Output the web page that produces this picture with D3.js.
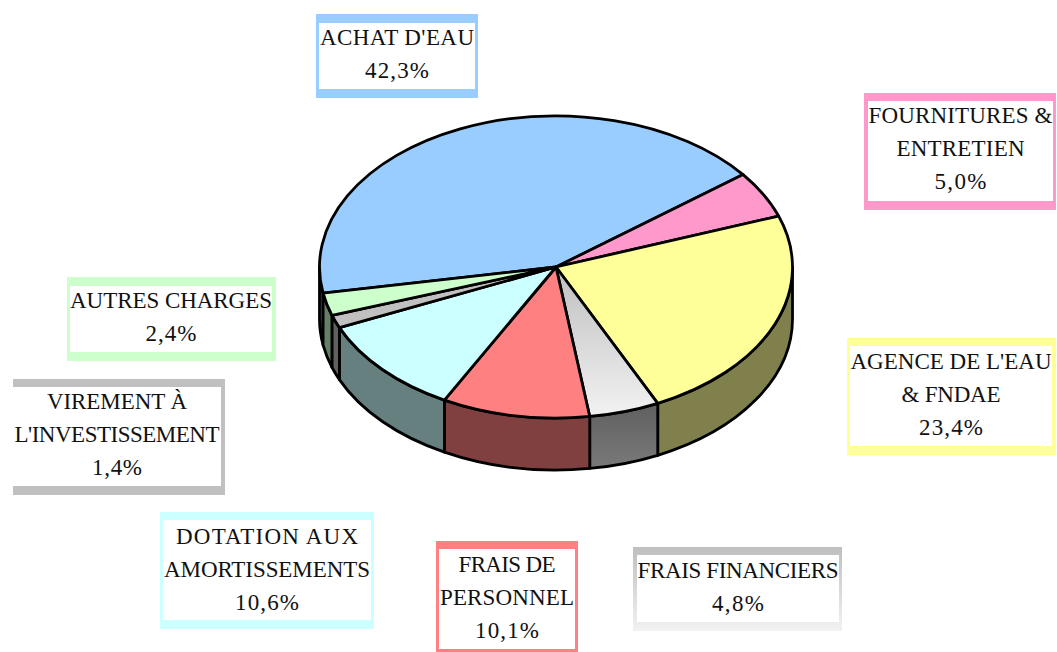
<!DOCTYPE html>
<html>
<head>
<meta charset="utf-8">
<script src="https://cdn.jsdelivr.net/npm/d3@7"></script>
<style>
  html, body { margin: 0; padding: 0; background: #fff; overflow: hidden; }
  svg { display: block; }
</style>
</head>
<body>
<div id="chart"></div>
<script>
// Chart data, clockwise from the left edge of the pie
var categories = ["ACHAT D'EAU", "FOURNITURES & ENTRETIEN", "AGENCE DE L'EAU & FNDAE", "FRAIS FINANCIERS",
    "FRAIS DE PERSONNEL", "DOTATION AUX AMORTISSEMENTS", "VIREMENT À L'INVESTISSEMENT", "AUTRES CHARGES"];
var values = [42.3, 5.0, 23.4, 4.8, 10.1, 10.6, 1.4, 2.4];
var labelLines = [["ACHAT D'EAU"], ["FOURNITURES &", "ENTRETIEN"], ["AGENCE DE L'EAU", "& FNDAE"], ["FRAIS FINANCIERS"],
    ["FRAIS DE", "PERSONNEL"], ["DOTATION AUX", "AMORTISSEMENTS"], ["VIREMENT À", "L'INVESTISSEMENT"], ["AUTRES CHARGES"]];

// Styling
var topColors = ["#99ccff", "#ff99cc", "#ffff99", "url(#fadeTop)", "#ff8080", "#ccffff", "#c0c0c0", "#ccffcc"];
var sideColors = ["#4d6680", "#804d66", "#80804d", "url(#fadeSide)", "#804040", "#668080", "#606060", "#668066"];
var frameColors = ["#99ccff", "#ff99cc", "#ffff99", "url(#fadeFrame)", "#ff8080", "#ccffff", "#c0c0c0", "#ccffcc"];

// Label boxes: outer and inner edges [x0, y0, x1, y1], baseline of first row, pixel width of each row
var frames = [
    { outer: [316, 14, 478, 98], inner: [319, 23, 475, 89], firstBase: 45, rowW: [154, 64] },
    { outer: [864, 93, 1056, 210], inner: [868, 101, 1053, 201], firstBase: 123, rowW: [184, 128, 52] },
    { outer: [847, 338, 1056, 455], inner: [850, 346, 1052, 446], firstBase: 369, rowW: [201, 99, 64] },
    { outer: [633, 547, 842, 631], inner: [637, 555, 839, 622], firstBase: 578, rowW: [201, 52] },
    { outer: [436, 541, 578, 652], inner: [439, 549, 575, 649], firstBase: 572, rowW: [97, 134, 64] },
    { outer: [160, 512, 374, 629], inner: [163, 520, 371, 620], firstBase: 544, rowW: [182, 206, 64] },
    { outer: [13, 379, 225, 495], inner: [13, 387, 221, 486], firstBase: 409, rowW: [140, 205, 50] },
    { outer: [67, 277, 276, 361], inner: [70, 286, 272, 352], firstBase: 308, rowW: [202, 51] }
];

var width = 1057, height = 652;
var cx = 556, cy = 267, rx = 236.5, ry = 151, depth = 52;
var strokeW = 2.8;

var svg = d3.select('#chart').append('svg')
    .attr('width', width)
    .attr('height', height);

// Gradients for the grey slice
var defs = svg.append('defs');
function addFade(id, from, to) {
    var g = defs.append('linearGradient').attr('id', id)
        .attr('x1', 0).attr('y1', 0).attr('x2', 0).attr('y2', 1);
    g.append('stop').attr('offset', '0%').attr('stop-color', from);
    g.append('stop').attr('offset', '100%').attr('stop-color', to);
}
addFade('fadeTop', '#bfbfbf', '#f2f2f2');
addFade('fadeSide', '#606060', '#797979');
addFade('fadeFrame', '#bfbfbf', '#f2f2f2');

// Slices start at the left edge, a little under 9 o'clock
var start = -100 * Math.PI / 180;
var pie = d3.pie().sort(null).startAngle(start).endAngle(start + 2 * Math.PI);
var slices = pie(values);

function px(a, r) { return cx + r * Math.sin(a); }
function py(a, r) { return cy - r * Math.cos(a); }

// Wall of a slice: only the part of its rim that faces the viewer
function wallPath(d) {
    var parts = [[Math.PI / 2, 3 * Math.PI / 2], [-3 * Math.PI / 2, -Math.PI / 2]];
    var out = '';
    parts.forEach(function (p) {
        var a0 = Math.max(d.startAngle, p[0]), a1 = Math.min(d.endAngle, p[1]);
        if (a1 <= a0) return;
        out += 'M' + px(a0, rx) + ',' + py(a0, ry) +
            'A' + rx + ',' + ry + ' 0 0 1 ' + px(a1, rx) + ',' + py(a1, ry) +
            'L' + px(a1, rx) + ',' + (py(a1, ry) + depth) +
            'A' + rx + ',' + ry + ' 0 0 0 ' + px(a0, rx) + ',' + (py(a0, ry) + depth) + 'Z';
    });
    return out;
}

svg.append('g').selectAll('path')
    .data(slices)
    .enter().append('path')
    .attr('d', wallPath)
    .attr('fill', function (d, i) { return sideColors[i]; })
    .attr('stroke', '#000')
    .attr('stroke-width', strokeW)
    .attr('stroke-linejoin', 'round');

// Top face: a normal d3 arc squashed into an ellipse
var arc = d3.arc().innerRadius(0).outerRadius(rx);
svg.append('g')
    .attr('transform', 'translate(' + cx + ',' + cy + ') scale(1,' + (ry / rx) + ')')
    .selectAll('path')
    .data(slices)
    .enter().append('path')
    .attr('d', arc)
    .attr('fill', function (d, i) { return topColors[i]; })
    .attr('stroke', '#000')
    .attr('stroke-width', strokeW)
    .attr('stroke-linejoin', 'round')
    .style('vector-effect', 'non-scaling-stroke');

// Labels
var frLocale = d3.formatLocale({ decimal: ',', thousands: ' ', grouping: [3], currency: ['', ' €'] });
var pct = frLocale.format('.1f');
var lineGap = 33;

var labels = svg.append('g').selectAll('g')
    .data(categories)
    .enter().append('g');

labels.append('rect')
    .attr('x', function (d, i) { return frames[i].outer[0]; })
    .attr('y', function (d, i) { return frames[i].outer[1]; })
    .attr('width', function (d, i) { return frames[i].outer[2] - frames[i].outer[0]; })
    .attr('height', function (d, i) { return frames[i].outer[3] - frames[i].outer[1]; })
    .attr('fill', function (d, i) { return frameColors[i]; });

labels.append('rect')
    .attr('x', function (d, i) { return frames[i].inner[0]; })
    .attr('y', function (d, i) { return frames[i].inner[1]; })
    .attr('width', function (d, i) { return frames[i].inner[2] - frames[i].inner[0]; })
    .attr('height', function (d, i) { return frames[i].inner[3] - frames[i].inner[1]; })
    .attr('fill', '#fff');

labels.each(function (d, i) {
    var f = frames[i];
    var rows = labelLines[i].concat([pct(values[i]) + '%']);
    d3.select(this).selectAll('text')
        .data(rows)
        .enter().append('text')
        .attr('x', (f.inner[0] + f.inner[2]) / 2)
        .attr('y', function (r, j) { return f.firstBase + j * lineGap; })
        .attr('text-anchor', 'middle')
        .attr('textLength', function (r, j) { return f.rowW[j]; })
        .style('font', 'normal 23px "Liberation Serif"')
        .style('fill', '#111')
        .text(function (r) { return r; });
});
</script>
</body>
</html>
